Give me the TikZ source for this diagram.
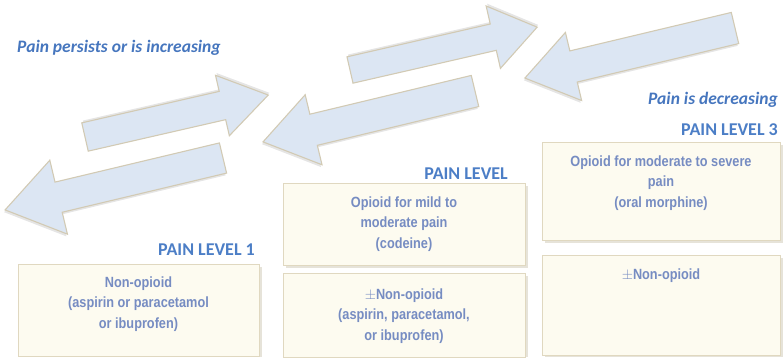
\documentclass[tikz,border=0pt]{standalone}
\usepackage{fontspec}
\setmainfont{Liberation Sans}
\newfontfamily\headfont{Carlito}
\newfontfamily\boxfont[FakeStretch=0.86]{Liberation Sans}

\definecolor{arrowfill}{RGB}{220,230,243}
\definecolor{arrowline}{RGB}{210,202,180}
\definecolor{boxfill}{RGB}{253,251,240}
\definecolor{boxline}{RGB}{224,216,192}
\definecolor{boxshade}{RGB}{200,192,170}
\definecolor{boxtext}{RGB}{118,140,194}
\definecolor{headblue}{RGB}{76,126,198}
\definecolor{noteblue}{RGB}{70,118,190}

\tikzset{
  blockarrow/.style={fill=arrowfill, draw=arrowline, line width=1.1pt, line join=miter},
  arrowshade/.style={fill=black, opacity=0.10},
  stagebox/.style={rectangle, draw=boxline, fill=boxfill, line width=1pt,
    inner sep=0pt, anchor=north west},
  boxshadow/.style={fill=boxshade, opacity=0.45},
  boxlines/.style={align=center, text=boxtext, inner sep=0pt,
    font={\boxfont\bfseries\fontsize{14.8}{20.5}\selectfont}},
  levellabel/.style={anchor=east, inner sep=0pt, text=headblue,
    font={\headfont\bfseries\fontsize{18}{20}\selectfont}},
  trendlabel/.style={inner sep=0pt, text=noteblue,
    font={\headfont\bfseries\itshape\fontsize{17.5}{20}\selectfont}},
}

% block arrow: tail centre (x,y), angle, length, shaft half-width, head half-width, head length
\newcommand{\blockarrow}[7]{%
  \begin{scope}[shift={(#1,#2)}, rotate=#3]
    \fill[arrowshade, shift={(1.5,-2)}]
      (0,#5) -- ({#4-#7},#5) -- ({#4-#7},#6) -- (#4,0) -- ({#4-#7},-#6)
      -- ({#4-#7},-#5) -- (0,-#5) -- cycle;
    \draw[blockarrow]
      (0,#5) -- ({#4-#7},#5) -- ({#4-#7},#6) -- (#4,0) -- ({#4-#7},-#6)
      -- ({#4-#7},-#5) -- (0,-#5) -- cycle;
  \end{scope}}

\begin{document}
\begin{tikzpicture}[x=1pt, y=-1pt]
  \useasboundingbox (0,0) rectangle (784,357);

  % arrows: escalation to the right, de-escalation to the left
  \blockarrow{223}{158}{193.4}{224}{15.5}{38}{55}
  \blockarrow{85}{137}{12.9}{188}{14.5}{31}{47}
  \blockarrow{350}{70}{12.9}{192}{13.5}{32}{45}
  \blockarrow{735}{28}{193.4}{216}{16}{35}{50}
  \blockarrow{475}{91}{193.5}{218}{16}{36}{52}

  % trend captions
  \node[trendlabel, anchor=west] (up) at (17,48) {Pain persists or is increasing};
  \node[trendlabel, anchor=east] (down) at (778,100) {Pain is decreasing};

  % box shadows
  \fill[boxshadow] (20.5,266.5) rectangle (261.5,357);
  \fill[boxshadow] (285.5,185.5) rectangle (527.5,267.5);
  \fill[boxshadow] (285.5,275.5) rectangle (527.5,357);
  \fill[boxshadow] (544.5,144.5) rectangle (782.5,242.5);
  \fill[boxshadow] (544.5,257.5) rectangle (782.5,357);

  % level 1
  \node[levellabel] (lv1) at (255,250) {PAIN LEVEL 1};
  \node[stagebox, minimum width=241pt, minimum height=92pt] (b1) at (18,264) {};
  \node[boxlines] (t1) at (138.5,304) {Non-opioid\\(aspirin or paracetamol\\or ibuprofen)};

  % level 2
  \node[levellabel] (lv2) at (508,174) {PAIN LEVEL};
  \node[stagebox, minimum width=242pt, minimum height=82pt] (b2a) at (283,183) {};
  \node[boxlines] (t2a) at (404,224) {Opioid for mild to\\moderate pain\\(codeine)};
  \node[stagebox, minimum width=242pt, minimum height=84pt] (b2b) at (283,273) {};
  \node[boxlines] (t2b) at (404,316) {$\pm$Non-opioid\\(aspirin, paracetamol,\\or ibuprofen)};

  % level 3
  \node[levellabel] (lv3) at (778,130) {PAIN LEVEL 3};
  \node[stagebox, minimum width=238pt, minimum height=98pt] (b3a) at (542,142) {};
  \node[boxlines] (t3a) at (661,183) {Opioid for moderate to severe\\pain\\(oral morphine)};
  \node[stagebox, minimum width=238pt, minimum height=100pt] (b3b) at (542,255) {};
  \node[boxlines] (t3b) at (661,276) {$\pm$Non-opioid};
\end{tikzpicture}
\end{document}
